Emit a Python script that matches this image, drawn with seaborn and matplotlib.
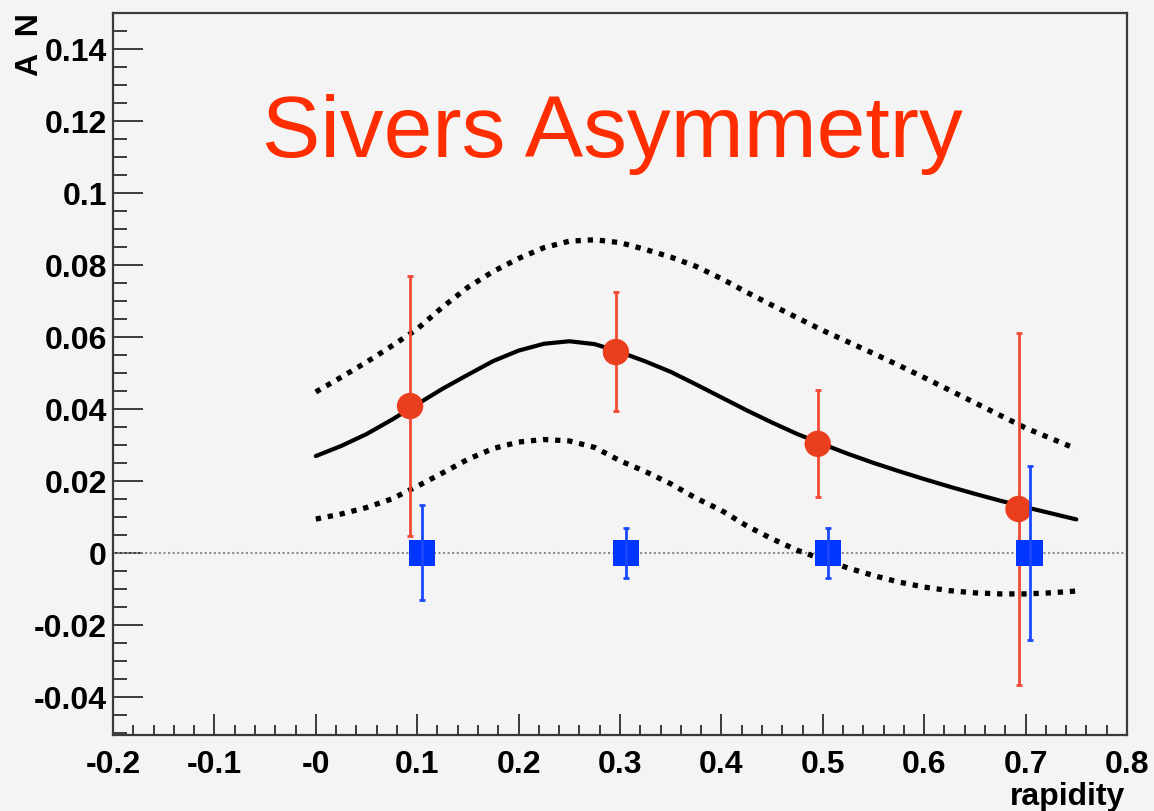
import numpy as np
import pandas as pd
import matplotlib
matplotlib.use("Agg")
import matplotlib.pyplot as plt
import seaborn as sns
from matplotlib.ticker import MultipleLocator

# ---------------- data ----------------
curve_x = [0.000, 0.025, 0.050, 0.075, 0.100, 0.125, 0.150, 0.175, 0.200, 0.225,
           0.250, 0.275, 0.300, 0.325, 0.350, 0.375, 0.400, 0.425, 0.450, 0.475,
           0.500, 0.525, 0.550, 0.575, 0.600, 0.625, 0.650, 0.675, 0.700, 0.725, 0.750]
center_curve = [0.0269, 0.0297, 0.0330, 0.0370, 0.0413, 0.0456, 0.0495, 0.0533, 0.0562, 0.0581,
                0.0588, 0.0580, 0.0558, 0.0532, 0.0503, 0.0468, 0.0432, 0.0396, 0.0362, 0.0330,
                0.0302, 0.0275, 0.0250, 0.0227, 0.0205, 0.0184, 0.0164, 0.0145, 0.0127, 0.0110, 0.0093]
upper_curve = [0.0447, 0.0488, 0.0530, 0.0575, 0.0622, 0.0683, 0.0738, 0.0782, 0.0818, 0.0848,
               0.0866, 0.0870, 0.0862, 0.0843, 0.0822, 0.0796, 0.0762, 0.0724, 0.0688, 0.0653,
               0.0618, 0.0586, 0.0554, 0.0521, 0.0487, 0.0452, 0.0417, 0.0382, 0.0347, 0.0318, 0.0289]
lower_curve = [0.0094, 0.0108, 0.0126, 0.0150, 0.0185, 0.0222, 0.0260, 0.0290, 0.0308, 0.0315,
               0.0311, 0.0293, 0.0256, 0.0226, 0.0192, 0.0152, 0.0118, 0.0075, 0.0039, 0.0007,
               -0.0018, -0.0042, -0.0063, -0.0081, -0.0095, -0.0105, -0.0111, -0.0114, -0.0114, -0.0111, -0.0106]

red_x = [0.093, 0.296, 0.495, 0.693]
red_y = [0.0408, 0.0558, 0.0303, 0.0122]
red_err_up = [0.0362, 0.0167, 0.0150, 0.0490]
red_err_dn = [0.0361, 0.0164, 0.0147, 0.0489]

blue_x = [0.105, 0.306, 0.505, 0.704]
blue_y = [0.0, 0.0, 0.0, 0.0]
blue_err = [0.0132, 0.0070, 0.0070, 0.0242]

x_ticks = [-0.2, -0.1, 0.0, 0.1, 0.2, 0.3, 0.4, 0.5, 0.6, 0.7, 0.8]
x_tick_labels = ["-0.2", "-0.1", "-0", "0.1", "0.2", "0.3", "0.4", "0.5", "0.6", "0.7", "0.8"]
y_ticks = [-0.04, -0.02, 0.0, 0.02, 0.04, 0.06, 0.08, 0.10, 0.12, 0.14]
y_tick_labels = ["-0.04", "-0.02", "0", "0.02", "0.04", "0.06", "0.08", "0.1", "0.12", "0.14"]

title_text = "Sivers Asymmetry"
x_label = "rapidity"
y_label = "A  N"

# ---------------- style ----------------
sns.set_theme(style="white")
bg = "#f4f4f4"
plt.rcParams["font.family"] = ["Liberation Sans", "DejaVu Sans"]

W, H = 1154, 812
fig = plt.figure(figsize=(W / 100, H / 100), dpi=100, facecolor=bg)
ax = fig.add_axes([113 / W, 1 - 736 / H, (1127 - 113) / W, (736 - 14) / H])
ax.set_facecolor(bg)

curves = pd.DataFrame({"x": curve_x, "center": center_curve,
                       "upper": upper_curve, "lower": lower_curve})

# zero line
ax.axhline(0, color="#8c8c8c", lw=1.5, ls=(0, (1, 1.2)), zorder=1)

# curves
sns.lineplot(data=curves, x="x", y="upper", ax=ax, color="black", lw=3.8,
             linestyle=(0, (1, 1.3)), zorder=2)
sns.lineplot(data=curves, x="x", y="lower", ax=ax, color="black", lw=3.8,
             linestyle=(0, (1, 1.3)), zorder=2)
sns.lineplot(data=curves, x="x", y="center", ax=ax, color="black", lw=3.0,
             zorder=3)

# red points
ax.errorbar(red_x, red_y, yerr=[red_err_dn, red_err_up], fmt="none",
            ecolor="#f04a34", elinewidth=2.0, capsize=2.2, capthick=2.0, zorder=4)
sns.scatterplot(x=red_x, y=red_y, ax=ax, marker="o", s=19 ** 2,
                color="#ea3f1e", edgecolor="none", zorder=5)

# blue points
sns.scatterplot(x=blue_x, y=blue_y, ax=ax, marker="s", s=19 ** 2,
                color="#0036ff", edgecolor="none", zorder=6)
ax.errorbar(blue_x, blue_y, yerr=blue_err, fmt="none",
            ecolor="#1a48ff", elinewidth=2.0, capsize=2.2, capthick=2.0, zorder=7)

# axes
ax.set_xlim(-0.2, 0.8)
ax.set_ylim(-0.0506, 0.15)
ax.set_xticks(x_ticks)
ax.set_xticklabels(x_tick_labels)
ax.set_yticks(y_ticks)
ax.set_yticklabels(y_tick_labels)
ax.xaxis.set_minor_locator(MultipleLocator(0.02))
ax.yaxis.set_minor_locator(MultipleLocator(0.005))
ax.set_xlabel("")
ax.set_ylabel("")

for s in ax.spines.values():
    s.set_visible(True)
    s.set_color("#3a3a3a")
    s.set_linewidth(1.6)

ax.tick_params(axis="both", which="both", direction="in", color="#3a3a3a",
               width=1.4, labelsize=23, labelcolor="black",
               top=False, right=False, bottom=True, left=True)
ax.tick_params(axis="y", which="major", length=21.5, pad=4.5)
ax.tick_params(axis="y", which="minor", length=10)
ax.tick_params(axis="x", which="major", length=15, pad=10)
ax.tick_params(axis="x", which="minor", length=7.5)
for lab in ax.get_xticklabels() + ax.get_yticklabels():
    lab.set_fontweight("bold")

# axis titles
fig.text(1125 / W, 1 - 797 / H, x_label, ha="right", va="center",
         fontsize=23, fontweight="bold", color="black")
fig.text(30 / W, 1 - 13 / H, y_label, ha="center", va="top", rotation=90,
         fontsize=23, fontweight="bold", color="black")

# big title
fig.text(262 / W, 1 - 157 / H, title_text, ha="left", va="baseline",
         fontsize=63, color="#ff2d00")

fig.savefig("out.png", dpi=100, facecolor=bg)
